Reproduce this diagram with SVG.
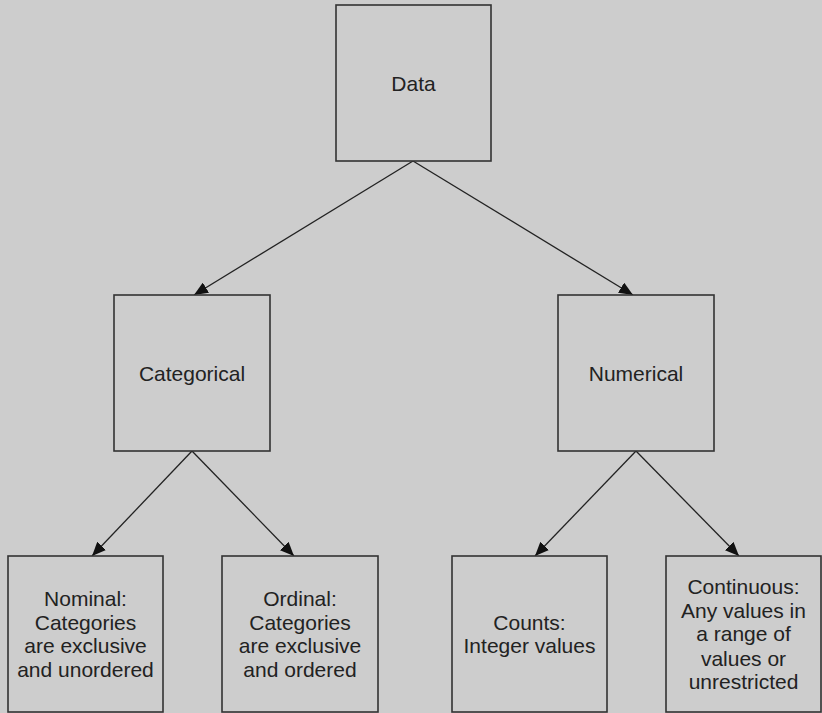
<svg xmlns="http://www.w3.org/2000/svg" width="822" height="713" viewBox="0 0 822 713">
<style>
.box{fill:#cdcdcd;stroke:#333;stroke-width:1.6}
.lbl{font-family:"Liberation Sans",Arial,sans-serif;font-size:21px;fill:#222;text-anchor:middle}
.conn{stroke:#222;stroke-width:1.3;fill:none;marker-end:url(#ah)}
</style>
<defs>
<marker id="ah" viewBox="0 0 14 12" refX="14" refY="6" markerWidth="14" markerHeight="12" markerUnits="userSpaceOnUse" orient="auto">
<path d="M0,0 L14,6 L0,12 Z" fill="#111"/>
</marker>
</defs>
<rect width="822" height="713" fill="#cdcdcd"/>
<g id="connectors">
<line class="conn" x1="413" y1="161" x2="194" y2="295"/>
<line class="conn" x1="413" y1="161" x2="633" y2="295"/>
<line class="conn" x1="192" y1="451" x2="92" y2="556"/>
<line class="conn" x1="192" y1="451" x2="294" y2="556"/>
<line class="conn" x1="636" y1="451" x2="535" y2="556"/>
<line class="conn" x1="636" y1="451" x2="739" y2="556"/>
</g>
<g id="data">
<rect class="box" x="336" y="5" width="155" height="156"/>
<text class="lbl" x="413.5" y="91">Data</text>
</g>
<g id="categorical">
<rect class="box" x="114" y="295" width="156" height="156"/>
<text class="lbl" x="192" y="381">Categorical</text>
</g>
<g id="numerical">
<rect class="box" x="558" y="295" width="156" height="156"/>
<text class="lbl" x="636" y="381">Numerical</text>
</g>
<g id="nominal">
<rect class="box" x="8" y="556" width="155" height="156"/>
<text class="lbl" x="85.5" y="606">Nominal:</text>
<text class="lbl" x="85.5" y="630">Categories</text>
<text class="lbl" x="85.5" y="653">are exclusive</text>
<text class="lbl" x="85.5" y="677">and unordered</text>
</g>
<g id="ordinal">
<rect class="box" x="222" y="556" width="156" height="156"/>
<text class="lbl" x="300" y="606">Ordinal:</text>
<text class="lbl" x="300" y="630">Categories</text>
<text class="lbl" x="300" y="653">are exclusive</text>
<text class="lbl" x="300" y="677">and ordered</text>
</g>
<g id="counts">
<rect class="box" x="452" y="556" width="155" height="156"/>
<text class="lbl" x="529.5" y="630">Counts:</text>
<text class="lbl" x="529.5" y="653">Integer values</text>
</g>
<g id="continuous">
<rect class="box" x="666" y="556" width="155" height="156"/>
<text class="lbl" x="743.5" y="594">Continuous:</text>
<text class="lbl" x="743.5" y="618">Any values in</text>
<text class="lbl" x="743.5" y="641">a range of</text>
<text class="lbl" x="743.5" y="666">values or</text>
<text class="lbl" x="743.5" y="689">unrestricted</text>
</g>
</svg>
